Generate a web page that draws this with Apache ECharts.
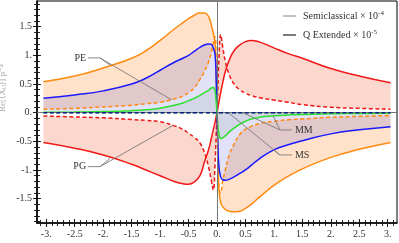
<!DOCTYPE html>
<html><head><meta charset="utf-8">
<script src="https://cdn.jsdelivr.net/npm/echarts@6/dist/echarts.min.js"></script>
<style>html,body{margin:0;padding:0;background:#fff}#c{width:399px;height:243px}</style>
</head><body><div id="c"></div>
<script>
// ---- data ----
const xs    = [-3.05,-2.5,-2,-1.5,-1.25,-1,-0.75,-0.6,-0.5,-0.4,-0.3,-0.22,-0.15,-0.1,-0.065,-0.035,-0.015,0,0.015,0.035,0.065,0.1,0.15,0.22,0.3,0.4,0.5,0.6,0.75,1,1.25,1.5,2,2.5,3.05];
const peQ   = [0.54,0.64,0.78,0.95,1.08,1.26,1.46,1.57,1.64,1.7,1.74,1.74,1.68,1.53,1.39,1.2,0.7,0,-0.7,-1.35,-1.57,-1.64,-1.69,-1.72,-1.73,-1.72,-1.67,-1.6,-1.47,-1.27,-1.11,-0.98,-0.78,-0.64,-0.52];
const peSC  = [0.06,0.075,0.10,0.13,0.155,0.18,0.24,0.29,0.35,0.43,0.58,0.72,0.88,1.05,1.21,1.33,0.8,0,-0.7,-1.3,-1.4,-1.2,-0.98,-0.72,-0.55,-0.38,-0.29,-0.24,-0.19,-0.15,-0.125,-0.11,-0.08,-0.065,-0.05];
const msQ   = [0.25,0.31,0.38,0.5,0.6,0.74,0.88,0.95,1.0,1.07,1.14,1.18,1.2,1.19,1.13,1.02,0.6,0,-0.55,-0.95,-1.12,-1.17,-1.18,-1.16,-1.12,-1.06,-1.0,-0.92,-0.8,-0.65,-0.56,-0.49,-0.37,-0.3,-0.245];
const msSC  = [0,0,0,0,0,0,0,0,0,0,0,0,0,0,0,0,0,0,0,0,0,0,0,0,0,0,0,0,0,0,0,0,0,0,0];
const mmQ   = [0.008,0.012,0.02,0.035,0.05,0.077,0.13,0.17,0.21,0.25,0.3,0.35,0.39,0.43,0.44,0.38,0.2,0,-0.2,-0.38,-0.45,-0.44,-0.4,-0.33,-0.27,-0.2,-0.15,-0.11,-0.08,-0.055,-0.04,-0.03,-0.02,-0.013,-0.01];
const mmSC  = [0,0,0,0,0,0,0,0,0,0,0,0,0,0,0,0,0,0,0,0,0,0,0,0,0,0,0,0,0,0,0,0,0,0,0];
const pgQ   = [-0.52,-0.62,-0.74,-0.9,-1.0,-1.1,-1.2,-1.24,-1.25,-1.21,-1.1,-0.86,-0.65,-0.45,-0.3,-0.17,-0.07,0,0.08,0.19,0.35,0.52,0.73,0.93,1.08,1.18,1.24,1.26,1.23,1.13,1.03,0.95,0.77,0.64,0.52];
const pgSC  = [-0.058,-0.075,-0.09,-0.12,-0.135,-0.157,-0.23,-0.29,-0.36,-0.43,-0.53,-0.7,-0.94,-1.18,-1.35,-0.9,-0.4,0,0.4,0.95,1.36,1.15,0.88,0.65,0.5,0.4,0.34,0.3,0.26,0.22,0.18,0.14,0.094,0.075,0.06];

const xTickValues = [-3,-2.5,-2,-1.5,-1,-0.5,0,0.5,1,1.5,2,2.5,3];
const xTickLabels = ['-3.','-2.5','-2.','-1.5','-1.','-0.5','0.','0.5','1.','1.5','2.','2.5','3.'];
const yTickValues = [-1.5,-1,-0.5,0,0.5,1,1.5];
const yTickLabels = ['-1.5','-1.','-0.5','0.','0.5','1.','1.5'];

const legendLabels = ['Semiclassical \u00d7 10', 'Q Extended \u00d7 10'];
const legendExps = ['-4', '-5'];

const notes = [
  {text:'PE', side:'left',  anchor:[-2.30, 0.955],  elbow:[-2.056, 0.955], ends:[[-1.88, 0.83],[-0.80, 0.225]]},
  {text:'PG', side:'left',  anchor:[-2.30, -0.942], elbow:[-2.056,-0.942], ends:[[-1.88,-0.80],[-0.77,-0.22]]},
  {text:'MM', side:'right', anchor:[1.37, -0.302],  elbow:[1.107, -0.302], ends:[[0.45, 0],[0.99,-0.06]]},
  {text:'MS', side:'right', anchor:[1.37, -0.738],  elbow:[1.107, -0.738], ends:[[0.20, 0],[0.99,-0.65]]}
];

// ---- chart ----
const FONT = '"Liberation Serif", "DejaVu Serif", serif';
const xMin = -3.163, xMax = 3.163, yMin = -1.925, yMax = 1.948;
const xMinor = [], yMinor = [];
for (let i = -31; i <= 31; i++) xMinor.push(i / 10);
for (let i = -19; i <= 19; i++) yMinor.push(i / 10);

const pairs = (a) => xs.map((x, i) => [x, a[i]]);
// band data given as [y, x] so that the stack runs on the y dimension
const yFirst = (a) => xs.map((x, i) => [a[i], x]);
const yFirstDiff = (a, b) => xs.map((x, i) => [+(a[i] - b[i]).toFixed(4), x]);

const chart = echarts.init(document.getElementById('c'), null, {renderer: 'canvas'});

function tickAxis(base, offset, len, vals, extra) {
  return Object.assign({
    type: 'value', min: base.min, max: base.max, offset: offset,
    axisLine: {show: false, onZero: false}, splitLine: {show: false},
    axisLabel: {show: false},
    axisTick: {show: true, inside: true, length: len, customValues: vals, lineStyle: {color: '#111', width: 0.9}}
  }, extra);
}

const SMOOTH = 0.5;
function lineS(data, color, dashed, z) {
  return {type: 'line', data: pairs(data), smooth: SMOOTH, symbol: 'none',
    lineStyle: {color: color, width: 1.5, type: dashed ? [4, 2.5] : 'solid'}, z: z || 4, silent: true};
}
function bandS(data, stack, area) {
  const s = {type: 'line', data: data, encode: {x: 1, y: 0}, stack: stack, stackStrategy: 'all',
    smooth: SMOOTH, symbol: 'none', lineStyle: {opacity: 0, width: 0}, z: 1, silent: true};
  if (area) s.areaStyle = {color: area, opacity: 1};
  return s;
}

const series = [
  bandS(yFirst(peSC), 'pe'),
  bandS(yFirstDiff(peQ, peSC), 'pe', 'rgba(255,140,40,0.25)'),
  bandS(yFirst(pgSC), 'pg'),
  bandS(yFirstDiff(pgQ, pgSC), 'pg', 'rgba(240,95,55,0.25)'),
  {type: 'line', data: pairs(msQ), smooth: SMOOTH, symbol: 'none', lineStyle: {opacity: 0, width: 0}, areaStyle: {color: 'rgba(40,40,210,0.2)'}, z: 2, silent: true},
  {type: 'line', data: pairs(mmQ), smooth: SMOOTH, symbol: 'none', lineStyle: {opacity: 0, width: 0}, areaStyle: {color: 'rgba(70,110,40,0.12)'}, z: 2, silent: true,
    markLine: {silent: true, symbol: 'none', label: {show: false}, animation: false,
      lineStyle: {color: '#777', width: 1, type: 'solid'},
      data: [{xAxis: 0}, {yAxis: 0}]}},
  lineS(peQ, '#ff8a10', false),
  lineS(peSC, '#ff8a10', true),
  lineS(pgQ, '#f01818', false),
  lineS(pgSC, '#f01818', true),
  lineS(msQ, '#1a1aff', false),
  lineS(mmQ, '#2ee02e', false),
  lineS(mmSC, '#2ee02e', true, 5),
  lineS(msSC, '#1a1a90', true, 6)
];

const xBase = {min: xMin, max: xMax}, yBase = {min: yMin, max: yMax};

chart.setOption({
  animation: false,
  backgroundColor: '#fff',
  grid: {left: 37, right: 2, top: 1, bottom: 20, show: true, borderColor: '#000', borderWidth: 1, backgroundColor: 'transparent'},
  xAxis: [
    {type: 'value', min: xMin, max: xMax, position: 'bottom',
      axisLine: {show: true, onZero: false, lineStyle: {color: '#000', width: 1.6}},
      axisTick: {show: false}, splitLine: {show: false},
      axisLabel: {customValues: xTickValues, margin: 6, fontFamily: FONT, fontSize: 10, color: '#333',
        formatter: (v) => { const i = xTickValues.findIndex(t => Math.abs(t - v) < 1e-6); return i >= 0 ? xTickLabels[i] : ''; }}},
    tickAxis(xBase, 4, 8, xTickValues, {position: 'bottom'}),
    tickAxis(xBase, 3, 6, xMinor, {position: 'bottom'})
  ],
  yAxis: [
    {type: 'value', min: yMin, max: yMax, position: 'left',
      axisLine: {show: true, onZero: false, lineStyle: {color: '#000', width: 1.6}},
      axisTick: {show: false}, splitLine: {show: false},
      axisLabel: {customValues: yTickValues, margin: 5, fontFamily: FONT, fontSize: 10, color: '#333',
        formatter: (v) => { const i = yTickValues.findIndex(t => Math.abs(t - v) < 1e-6); return i >= 0 ? yTickLabels[i] : ''; }}},
    tickAxis(yBase, 4, 8, yTickValues, {position: 'left'}),
    tickAxis(yBase, 3, 6, yMinor, {position: 'left'})
  ],
  series: series
});

// ---- annotations and legend ----
const toPx = (p) => chart.convertToPixel({xAxisIndex: 0, yAxisIndex: 0}, p);
const graphics = [];
notes.forEach(n => {
  const a = toPx(n.anchor), e = toPx(n.elbow);
  const sx = n.side === 'left' ? a[0] + 2 : a[0] - 3;
  graphics.push({type: 'line', shape: {x1: sx, y1: a[1], x2: e[0], y2: e[1]}, style: {stroke: '#7a7a7a', lineWidth: 0.9}, z: 20});
  n.ends.forEach(p => {
    const q = toPx(p);
    graphics.push({type: 'line', shape: {x1: e[0], y1: e[1], x2: q[0], y2: q[1]}, style: {stroke: '#7a7a7a', lineWidth: 0.9}, z: 20});
  });
  graphics.push({type: 'text', x: a[0], y: a[1], z: 21,
    style: {text: n.text, font: '10px ' + FONT, fill: '#333', align: n.side === 'left' ? 'right' : 'left', verticalAlign: 'middle'}});
});
const legY = [16, 35];
const legStroke = ['#777', '#222'];
const legW = [0.9, 1.2];
legendLabels.forEach((t, i) => {
  graphics.push({type: 'line', shape: {x1: 283, y1: legY[i], x2: 296, y2: legY[i]}, style: {stroke: legStroke[i], lineWidth: legW[i]}, z: 20});
  graphics.push({type: 'text', x: 303, y: legY[i], z: 21,
    style: {text: t + '{s|' + legendExps[i] + '}', font: '10px ' + FONT, fill: '#333', verticalAlign: 'middle',
      rich: {s: {fontSize: 7, fontFamily: FONT, fill: '#333', padding: [0, 0, 6, 0]}}}});
});
graphics.push({type: 'text', x: 3, y: 88, rotation: Math.PI / 2, z: 21,
  style: {text: 'Re[\u27e8X\u1d62\u2c7c\u27e9] p\u207b\u2074', font: '9px ' + FONT, fill: '#aaa', align: 'center', verticalAlign: 'middle'}});

chart.setOption({graphic: graphics});
</script>
</body></html>
